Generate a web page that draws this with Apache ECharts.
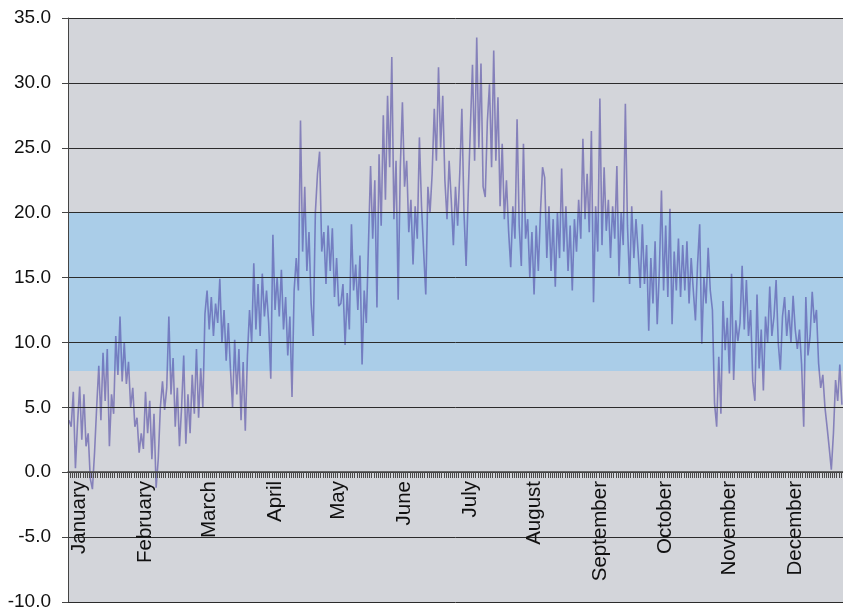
<!DOCTYPE html>
<html>
<head>
<meta charset="utf-8">
<script src="https://cdn.jsdelivr.net/npm/echarts@6/dist/echarts.min.js"></script>
<style>
  html, body { margin: 0; padding: 0; background: #fff; }
  #container { width: 843px; height: 610px; }
</style>
</head>
<body>
<div id="container"></div>
<script>
// daily temperature readings, one array per month
const janTemps = [4.0, 3.5, 6.2, 0.3, 3.8, 6.6, 2.5, 6.0, 2.0, 3.0, -0.5, -1.3, 1.5, 5.0, 8.2, 4.0, 9.2, 5.5, 9.5, 2.0, 6.0, 4.5, 10.5, 7.5, 12.0, 7.0, 10.0, 6.8, 8.5, 5.0, 6.5];
const febTemps = [3.5, 4.2, 1.5, 3.0, 1.8, 6.2, 3.0, 5.5, 1.0, 4.5, -1.2, 1.0, 5.0, 7.0, 4.8, 6.5, 12.0, 6.0, 8.8, 3.5, 6.5, 2.0, 5.0, 9.0, 2.2, 6.0, 3.0, 7.5];
const marTemps = [4.5, 9.5, 4.2, 8.0, 5.0, 12.2, 14.0, 11.0, 13.5, 10.5, 13.0, 11.5, 14.9, 10.0, 12.5, 8.6, 11.5, 8.0, 5.0, 10.2, 6.0, 9.5, 4.0, 8.5, 3.2, 9.0, 12.5, 10.0, 16.1, 11.0, 14.5];
const aprTemps = [10.5, 15.3, 12.0, 14.0, 11.5, 7.2, 18.3, 12.5, 15.0, 12.0, 15.6, 11.0, 13.5, 9.0, 12.0, 5.8, 14.0, 16.5, 14.0, 27.1, 17.0, 22.0, 15.5, 18.5, 13.0, 10.5, 20.0, 23.0, 24.7, 17.0];
const mayTemps = [18.5, 14.5, 19.0, 15.5, 18.8, 13.5, 16.5, 12.8, 13.0, 14.5, 9.8, 13.8, 11.0, 19.1, 14.0, 16.0, 12.5, 16.7, 8.3, 14.0, 11.5, 17.5, 23.6, 18.0, 22.5, 12.7, 24.5, 19.0, 27.5, 21.0, 29.0];
const junTemps = [23.5, 32.0, 19.5, 24.0, 13.3, 23.5, 28.5, 22.0, 24.0, 18.5, 21.0, 16.0, 20.5, 18.0, 25.8, 20.5, 17.0, 13.7, 22.0, 20.0, 23.0, 28.0, 24.0, 31.2, 25.0, 29.0, 22.5, 19.5, 24.0, 21.0];
const julTemps = [17.5, 22.0, 19.0, 23.0, 28.0, 20.0, 15.9, 21.5, 26.5, 31.4, 24.0, 33.5, 25.0, 31.5, 22.0, 21.2, 27.0, 29.9, 23.5, 32.5, 24.0, 28.9, 20.5, 25.3, 19.5, 22.5, 18.6, 15.8, 20.5, 18.0, 27.2];
const augTemps = [19.0, 15.9, 25.3, 18.0, 19.5, 15.0, 18.5, 13.7, 19.0, 15.5, 20.0, 23.5, 22.7, 16.5, 20.5, 15.5, 19.5, 14.3, 20.0, 16.5, 23.4, 17.0, 20.5, 15.5, 19.0, 14.0, 19.5, 17.0, 21.0, 18.0, 25.7];
const sepTemps = [19.5, 23.0, 18.5, 26.3, 13.1, 20.5, 17.0, 28.8, 17.5, 23.5, 18.6, 21.0, 16.5, 20.5, 18.0, 23.6, 15.1, 20.0, 17.5, 28.4, 19.0, 14.5, 20.5, 16.5, 19.5, 17.0, 14.2, 19.1, 14.5, 17.5];
const octTemps = [10.9, 16.5, 13.0, 17.8, 11.4, 15.5, 21.7, 14.0, 19.0, 13.5, 20.3, 11.4, 17.0, 14.0, 18.0, 13.5, 17.5, 14.0, 17.8, 13.0, 16.5, 14.0, 11.7, 16.0, 19.1, 9.9, 15.0, 13.0, 17.3, 14.0, 12.5];
const novTemps = [5.3, 3.5, 8.9, 4.5, 13.2, 9.4, 11.9, 7.6, 15.3, 7.1, 11.7, 10.1, 11.5, 15.9, 11.0, 14.8, 10.5, 12.5, 7.0, 5.5, 13.7, 8.0, 11.0, 6.3, 12.0, 10.0, 14.3, 10.5, 12.0, 14.8];
const decTemps = [10.0, 7.9, 12.0, 13.5, 10.5, 12.5, 10.0, 13.6, 11.0, 9.5, 11.0, 8.3, 3.5, 13.5, 9.0, 10.5, 13.9, 11.5, 12.5, 8.4, 6.5, 7.5, 5.0, 3.5, 1.9, 0.2, 3.0, 7.1, 5.5, 8.3, 5.2];

const monthNames = ['January', 'February', 'March', 'April', 'May', 'June', 'July', 'August', 'September', 'October', 'November', 'December'];
// day index where each month name is printed on the axis
const monthLabelDays = [5, 36, 66, 97, 127, 158, 189, 219, 250, 281, 311, 342];
// comfort band limits
const bandLow = 7.8;
const bandHigh = 20;

const temps = [].concat(janTemps, febTemps, marTemps, aprTemps, mayTemps, junTemps,
  julTemps, augTemps, sepTemps, octTemps, novTemps, decTemps);
const days = temps.map(function (v, i) { return String(i + 1); });

const dom = document.getElementById('container');
const chart = echarts.init(dom);

// grid is 584px tall for 45 degrees, so 0.0 sits 130px above the bottom edge
const zeroOffset = -130;

chart.setOption({
  animation: false,
  backgroundColor: '#ffffff',
  grid: {
    left: 68, right: 0, top: 18, bottom: 8,
    outerBoundsMode: 'none',
    containLabel: false,
    show: true, backgroundColor: '#d3d5da', borderWidth: 0
  },
  xAxis: {
    type: 'category',
    data: days,
    boundaryGap: true,
    offset: zeroOffset,
    z: 3,
    axisLine: { onZero: false, lineStyle: { color: '#444', width: 1.5 } },
    axisTick: { show: true, interval: 0, length: 6, lineStyle: { color: '#4a4a4a', width: 1 } },
    axisLabel: {
      rotate: 90,
      margin: 9,
      fontFamily: 'Liberation Sans, Arial, sans-serif',
      fontSize: 20.5,
      color: '#111',
      interval: function (i) { return monthLabelDays.indexOf(i) >= 0; },
      formatter: function (val, i) {
        const k = monthLabelDays.indexOf(i);
        return k >= 0 ? monthNames[k] : '';
      }
    },
    splitLine: { show: false }
  },
  yAxis: {
    type: 'value',
    min: -10,
    max: 35,
    interval: 5,
    z: 3,
    axisLine: { show: true, lineStyle: { color: '#444', width: 1 } },
    axisTick: { show: true, length: 6, lineStyle: { color: '#444' } },
    axisLabel: {
      margin: 17,
      fontFamily: 'Liberation Sans, Arial, sans-serif',
      fontSize: 19,
      color: '#111',
      formatter: function (v) { return v.toFixed(1); }
    },
    splitLine: { show: true, lineStyle: { color: '#2b2b2b', width: 1 } }
  },
  series: [
    {
      // blue band, kept under the temperature line
      type: 'line',
      data: [],
      z: 1,
      silent: true,
      markArea: {
        silent: true,
        itemStyle: { color: '#aacde8' },
        data: [[{ yAxis: bandLow }, { yAxis: bandHigh }]]
      }
    },
    {
      type: 'line',
      data: temps,
      z: 2,
      symbol: 'none',
      lineStyle: { color: 'rgba(70, 60, 160, 0.55)', width: 1.6 }
    }
  ]
});
</script>
</body>
</html>
